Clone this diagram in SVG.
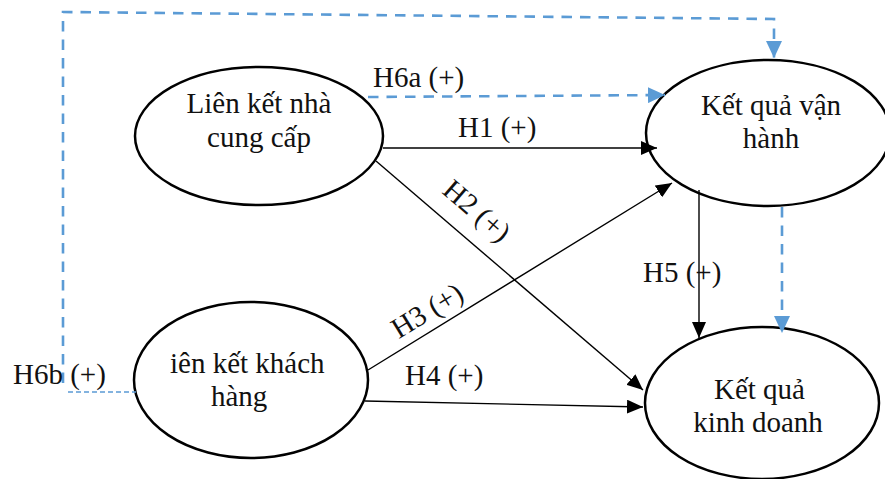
<svg xmlns="http://www.w3.org/2000/svg" width="885" height="479" viewBox="0 0 885 479">
  <style>
    .node ellipse { fill: #ffffff; stroke: #000000; stroke-width: 2.5; }
    .node text, .lbl { font-family: "Liberation Serif", "Times New Roman", serif; font-size: 29px; fill: #111111; }
    .solid { stroke: #000000; stroke-width: 1.4; fill: none; }
    .dash { stroke: #5B9BD5; stroke-width: 2.6; fill: none; stroke-dasharray: 10.5 8; }
    .dash-thin { stroke: #5B9BD5; stroke-width: 1.4; fill: none; stroke-dasharray: 5 3; }
  </style>
  <defs>
    <marker id="arrow-black" markerUnits="userSpaceOnUse" markerWidth="18" markerHeight="14" refX="16" refY="7" orient="auto">
      <path d="M0,0 L16,7 L0,14 Z" fill="#000000"/>
    </marker>
    <marker id="arrow-blue" markerUnits="userSpaceOnUse" markerWidth="18" markerHeight="16" refX="17" refY="8" orient="auto">
      <path d="M0,0 L17,8 L0,16 Z" fill="#5B9BD5"/>
    </marker>
  </defs>

  <rect width="885" height="479" fill="#ffffff"/>

  <!-- nodes -->
  <g id="supplier" class="node">
    <ellipse cx="259" cy="136" rx="124" ry="69"/>
    <text x="259" y="113" text-anchor="middle">Liên kết nhà</text>
    <text x="259" y="147" text-anchor="middle">cung cấp</text>
  </g>
  <g id="operations" class="node">
    <ellipse cx="768" cy="133" rx="122" ry="73"/>
    <text x="771" y="115" text-anchor="middle">Kết quả vận</text>
    <text x="771" y="148" text-anchor="middle">hành</text>
  </g>
  <g id="customer" class="node">
    <ellipse cx="251" cy="380" rx="117" ry="78"/>
    <text x="170" y="373">iên kết khách</text>
    <text x="211" y="406">hàng</text>
  </g>
  <g id="business" class="node">
    <ellipse cx="762" cy="403" rx="117" ry="76"/>
    <text x="714" y="399">Kết quả</text>
    <text x="758" y="432" text-anchor="middle">kinh doanh</text>
  </g>

  <!-- connectors -->
  <g id="connectors">
    <!-- H6b: customer link to operations (dashed loop) -->
    <polyline class="dash" points="63,383 63,12 774,19 774,58" marker-end="url(#arrow-blue)"/>
    <line class="dash-thin" x1="68" y1="392" x2="136" y2="392"/>
    <!-- H6a -->
    <line class="dash" x1="368" y1="97" x2="665" y2="95" marker-end="url(#arrow-blue)"/>
    <!-- H1 -->
    <line class="solid" x1="383" y1="148" x2="657" y2="148" marker-end="url(#arrow-black)"/>
    <!-- H2 -->
    <line class="solid" x1="376" y1="161" x2="643" y2="390" marker-end="url(#arrow-black)"/>
    <!-- H3 -->
    <line class="solid" x1="368" y1="370" x2="672" y2="183" marker-end="url(#arrow-black)"/>
    <!-- H4 -->
    <line class="solid" x1="365" y1="401" x2="643" y2="407" marker-end="url(#arrow-black)"/>
    <!-- H5 -->
    <line class="solid" x1="699" y1="190" x2="699" y2="338" marker-end="url(#arrow-black)"/>
    <!-- operations to business (dashed) -->
    <line class="dash" x1="782" y1="207" x2="782" y2="333" marker-end="url(#arrow-blue)"/>
  </g>

  <!-- connector labels -->
  <g id="labels">
    <text class="lbl" x="373" y="87">H6a (+)</text>
    <text class="lbl" x="458" y="137">H1 (+)</text>
    <text class="lbl" text-anchor="middle" transform="translate(476,212) rotate(40.8)" y="8">H2 (+)</text>
    <text class="lbl" text-anchor="middle" transform="translate(428,312) rotate(-31.4)" y="8">H3 (+)</text>
    <text class="lbl" x="405" y="385">H4 (+)</text>
    <text class="lbl" x="643" y="282">H5 (+)</text>
    <text class="lbl" x="13" y="384">H6b (+)</text>
  </g>
</svg>
